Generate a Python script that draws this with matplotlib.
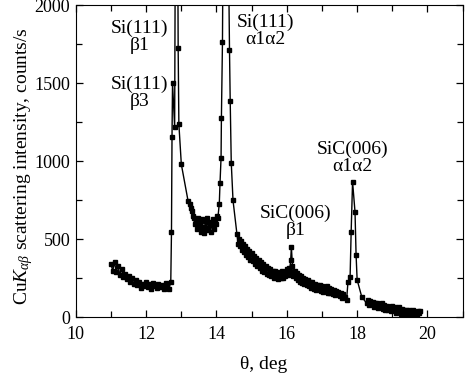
import matplotlib
matplotlib.use("Agg")
import matplotlib.pyplot as plt
from matplotlib.ticker import MultipleLocator

plt.rcParams['font.family'] = ['Liberation Serif', 'DejaVu Serif']
plt.rcParams['mathtext.fontset'] = 'custom'
plt.rcParams['mathtext.rm'] = 'Liberation Serif'
plt.rcParams['mathtext.it'] = 'Liberation Serif:italic'
plt.rcParams['font.size'] = 13

# --- scan data (theta in deg, counts/s) ---
theta = [
    11.00, 11.05, 11.10, 11.15, 11.20, 11.25, 11.30, 11.35, 11.40, 11.45,
    11.50, 11.55, 11.60, 11.65, 11.70, 11.75, 11.80, 11.85, 11.90, 11.95,
    12.00, 12.05, 12.10, 12.15, 12.20, 12.25, 12.30, 12.35, 12.40, 12.45,
    12.50, 12.55, 12.60, 12.65, 12.70, 12.72, 12.735, 12.75, 12.81, 12.86,
    12.91, 12.93, 13.00, 13.19, 13.24, 13.27, 13.30, 13.33, 13.35, 13.38,
    13.41, 13.44, 13.47, 13.50, 13.53, 13.56, 13.59, 13.62, 13.65, 13.68,
    13.71, 13.74, 13.77, 13.80, 13.83, 13.86, 13.89, 13.92, 13.95, 13.98,
    14.01, 14.04, 14.08, 14.10, 14.13, 14.14, 14.17, 14.24, 14.37, 14.39,
    14.42, 14.47, 14.58, 14.62, 14.64, 14.66, 14.70, 14.72, 14.75, 14.78,
    14.80, 14.84, 14.87, 14.90, 14.93, 14.96, 15.00, 15.03, 15.06, 15.10,
    15.13, 15.16, 15.20, 15.23, 15.26, 15.30, 15.33, 15.36, 15.40, 15.43,
    15.46, 15.50, 15.53, 15.56, 15.60, 15.63, 15.66, 15.70, 15.73, 15.76,
    15.80, 15.83, 15.86, 15.90, 15.93, 15.96, 16.00, 16.03, 16.06, 16.08,
    16.11, 16.13, 16.16, 16.19, 16.22, 16.25, 16.28, 16.31, 16.34, 16.37,
    16.40, 16.43, 16.46, 16.50, 16.53, 16.56, 16.60, 16.63, 16.66, 16.70,
    16.73, 16.76, 16.80, 16.83, 16.86, 16.90, 16.93, 16.96, 17.00, 17.03,
    17.06, 17.10, 17.13, 17.16, 17.20, 17.23, 17.26, 17.30, 17.33, 17.36,
    17.40, 17.43, 17.46, 17.50, 17.53, 17.56, 17.60, 17.65, 17.70, 17.74,
    17.80, 17.83, 17.87, 17.94, 17.97, 18.00, 18.13, 18.27, 18.30, 18.34,
    18.37, 18.40, 18.44, 18.47, 18.50, 18.54, 18.57, 18.60, 18.64, 18.67,
    18.70, 18.74, 18.77, 18.80, 18.84, 18.87, 18.90, 18.94, 18.97, 19.00,
    19.04, 19.07, 19.10, 19.14, 19.17, 19.20, 19.24, 19.27, 19.30, 19.34,
    19.37, 19.40, 19.44, 19.47, 19.50, 19.54, 19.57, 19.60, 19.64, 19.67,
    19.70, 19.74, 19.77, 19.80,
]
intensity = [
    340, 300, 355, 290, 330, 275, 310, 260, 280, 245,
    265, 230, 250, 215, 240, 205, 230, 190, 215, 200,
    225, 195, 215, 185, 220, 200, 190, 215, 195, 205,
    185, 220, 195, 185, 230, 548, 1156, 1505, 1219, 4500,
    1729, 1240, 982, 749, 728, 700, 680, 650, 640, 600,
    620, 570, 640, 590, 610, 545, 630, 580, 540, 620,
    575, 640, 560, 610, 545, 590, 630, 570, 620, 600,
    650, 640, 730, 860, 1025, 1280, 1765, 4500, 1716, 1390,
    992, 750, 538, 470, 500, 455, 490, 430, 470, 420,
    455, 400, 440, 385, 425, 370, 410, 360, 395, 345,
    380, 330, 370, 320, 355, 300, 345, 290, 330, 280,
    320, 275, 310, 265, 300, 255, 295, 260, 290, 245,
    285, 255, 300, 250, 290, 265, 310, 275, 320, 294,
    368, 453, 330, 265, 300, 250, 285, 240, 270, 230,
    265, 220, 255, 215, 245, 205, 240, 200, 230, 190,
    225, 185, 215, 175, 210, 180, 205, 170, 200, 165,
    195, 170, 200, 160, 190, 155, 185, 150, 175, 145,
    170, 150, 165, 135, 160, 125, 150, 130, 112, 230,
    262, 550, 870, 675, 400, 241, 133, 91, 110, 80,
    105, 85, 100, 70, 95, 75, 90, 60, 85, 65,
    95, 55, 80, 50, 75, 45, 70, 60, 40, 75,
    45, 65, 30, 60, 40, 70, 25, 55, 30, 50,
    20, 45, 25, 50, 15, 40, 20, 45, 25, 35,
    15, 40, 30, 40,
]

peak_labels = ["Si(111)\nβ1", "Si(111)\nβ3", "Si(111)\nα1α2",
               "SiC(006)\nβ1", "SiC(006)\nα1α2"]
label_x = [11.82, 11.82, 15.38, 16.26, 17.87]
label_y = [1800, 1440, 1835, 610, 1022]

fig = plt.figure(figsize=(4.74, 3.90), dpi=100)
ax = fig.add_axes([0.160, 0.186, 0.816, 0.800])

ax.plot(theta, intensity, color='black', lw=1.0, marker='s', ms=2.6,
        mfc='black', mec='black')

for txt, tx, ty in zip(peak_labels, label_x, label_y):
    ax.text(tx, ty, txt, ha='center', va='center', multialignment='center',
            linespacing=1.0, fontsize=14)

ax.set_xlim(10, 21)
ax.set_ylim(0, 2000)
ax.xaxis.set_major_locator(MultipleLocator(2))
ax.xaxis.set_minor_locator(MultipleLocator(1))
ax.yaxis.set_major_locator(MultipleLocator(500))
ax.yaxis.set_minor_locator(MultipleLocator(250))
ax.tick_params(which='both', direction='in', top=True, right=True,
               labelsize=13, width=0.9)
ax.tick_params(which='major', length=5)
ax.tick_params(which='minor', length=4)
ax.tick_params(axis='x', pad=6)
ax.tick_params(axis='y', pad=4)

ax.set_xlabel('θ, deg', fontsize=14)
ax.set_ylabel(r'Cu$K_{\alpha\beta}$ scattering intensity, counts/s', fontsize=14)
ax.xaxis.set_label_coords(0.486, -0.122)
ax.yaxis.set_label_coords(-0.105, 0.486)

fig.savefig('out.png', dpi=100)
